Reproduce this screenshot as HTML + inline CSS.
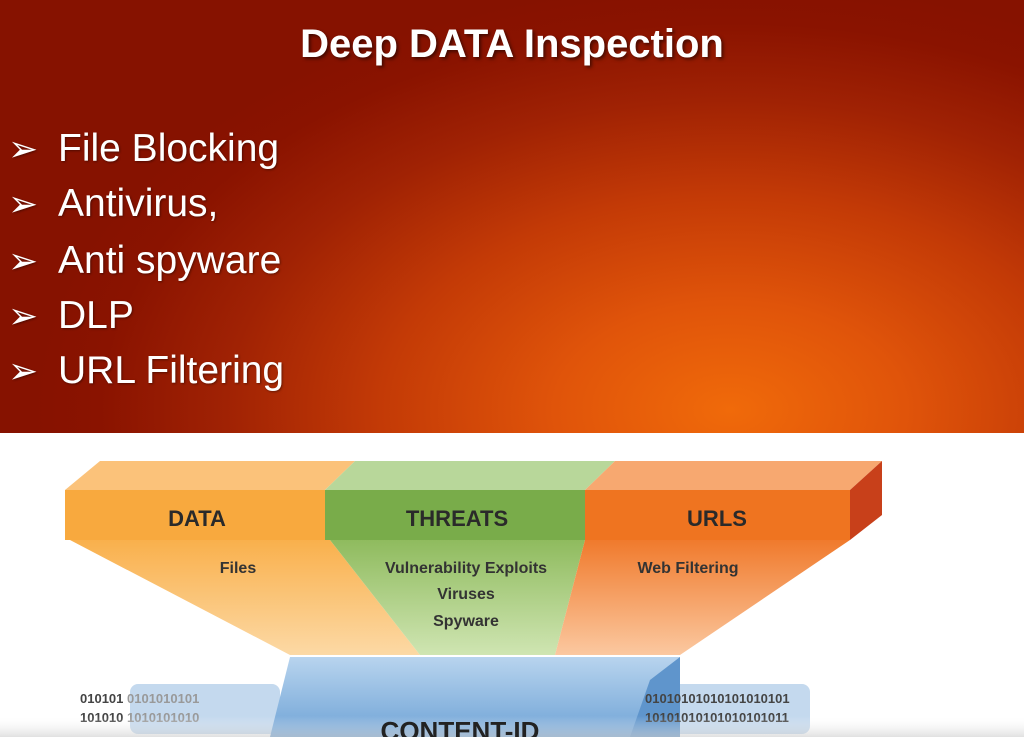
<!DOCTYPE html>
<html><head><meta charset="utf-8"><style>
body{margin:0;width:1024px;height:737px;overflow:hidden;background:#fff;font-family:"Liberation Sans",sans-serif;position:relative}
#top{position:absolute;left:0;top:0;width:1024px;height:433px;
background:radial-gradient(ellipse 700px 430px at 730px 410px,#f06a0a 0%,#e0540a 25%,#c33a06 50%,#a02204 72%,#8a1300 90%,#861200 100%)}
h1{position:absolute;top:22px;left:0;width:1024px;text-align:center;margin:0;color:#fff;font-size:40px;font-weight:bold;text-shadow:2px 2px 3px rgba(0,0,0,.5)}
.b{position:absolute;left:8px;color:#fff;font-size:39px;white-space:nowrap;text-shadow:1px 1px 2px rgba(0,0,0,.4)}
.b span{display:inline-block;width:50px;font-family:"DejaVu Sans",sans-serif;font-size:36px}
</style></head><body>
<div id="top">
<h1>Deep DATA Inspection</h1>
<div class="b" style="top:127px"><span>➢</span>File Blocking</div>
<div class="b" style="top:182px"><span>➢</span>Antivirus,</div>
<div class="b" style="top:239px"><span>➢</span>Anti spyware</div>
<div class="b" style="top:294px"><span>➢</span>DLP</div>
<div class="b" style="top:349px"><span>➢</span>URL Filtering</div>
</div>
<svg width="1024" height="737" style="position:absolute;left:0;top:0" font-family="Liberation Sans, sans-serif" font-weight="bold">
<defs>
<linearGradient id="fo" x1="0" y1="0" x2="0" y2="1"><stop offset="0" stop-color="#f9b04c"/><stop offset="1" stop-color="#fcd9a5"/></linearGradient>
<linearGradient id="fg" x1="0" y1="0" x2="0" y2="1"><stop offset="0" stop-color="#8fbb5e"/><stop offset="1" stop-color="#cfe5b2"/></linearGradient>
<linearGradient id="fr" x1="0" y1="0" x2="0" y2="1"><stop offset="0" stop-color="#f07a2c"/><stop offset="1" stop-color="#fbc8a0"/></linearGradient>
<linearGradient id="cy" x1="0" y1="0" x2="0" y2="1"><stop offset="0" stop-color="#b8d4ee"/><stop offset="1" stop-color="#6fa3d6"/></linearGradient>
<linearGradient id="bt" x1="0" y1="0" x2="0" y2="1"><stop offset="0" stop-color="#fff" stop-opacity="0"/><stop offset="1" stop-color="#ccc" stop-opacity=".6"/></linearGradient>
</defs>
<polygon points="70,540 330,540 420,655 290,655" fill="url(#fo)"/>
<polygon points="330,540 585,540 555,655 420,655" fill="url(#fg)"/>
<polygon points="585,540 850,540 680,655 555,655" fill="url(#fr)"/>
<polygon points="65,490 100,461 355,461 325,490" fill="#fbc27a"/>
<polygon points="325,490 355,461 615,461 585,490" fill="#b8d79a"/>
<polygon points="585,490 615,461 882,461 850,490" fill="#f7a870"/>
<polygon points="850,490 882,461 882,515 850,540" fill="#c8401a"/>
<rect x="65" y="490" width="260" height="50" fill="#f8a93e"/>
<rect x="325" y="490" width="260" height="50" fill="#79ac4a"/>
<rect x="585" y="490" width="265" height="50" fill="#ef7420"/>
<text x="197" y="526" font-size="22" text-anchor="middle" fill="#2a2a2a">DATA</text>
<text x="457" y="526" font-size="22" text-anchor="middle" fill="#2a2a2a">THREATS</text>
<text x="717" y="526" font-size="22" text-anchor="middle" fill="#2a2a2a">URLS</text>
<g font-size="16" fill="#333" text-anchor="middle">
<text x="238" y="573">Files</text>
<text x="466" y="573">Vulnerability Exploits</text>
<text x="466" y="599">Viruses</text>
<text x="466" y="626">Spyware</text>
<text x="688" y="573">Web Filtering</text>
</g>
<rect x="130" y="684" width="150" height="50" rx="8" fill="#b5d0ea" opacity=".8"/>
<rect x="640" y="684" width="170" height="50" rx="8" fill="#b5d0ea" opacity=".8"/>
<polygon points="270,737 290,657 680,657 680,737" fill="url(#cy)"/>
<polygon points="630,737 650,680 680,657 680,737" fill="#5f95cc"/>
<g font-size="13" fill="#444">
<text x="80" y="703">010101 <tspan fill="#999">0101010101</tspan></text>
<text x="80" y="722">101010 <tspan fill="#999">1010101010</tspan></text>
<text x="645" y="703">01010101010101010101</text>
<text x="645" y="722">10101010101010101011</text>
</g>
<rect x="0" y="716" width="1024" height="21" fill="url(#bt)"/>
<text x="460" y="740" font-size="26" text-anchor="middle" fill="#222">CONTENT-ID</text>
</svg>
</body></html>
